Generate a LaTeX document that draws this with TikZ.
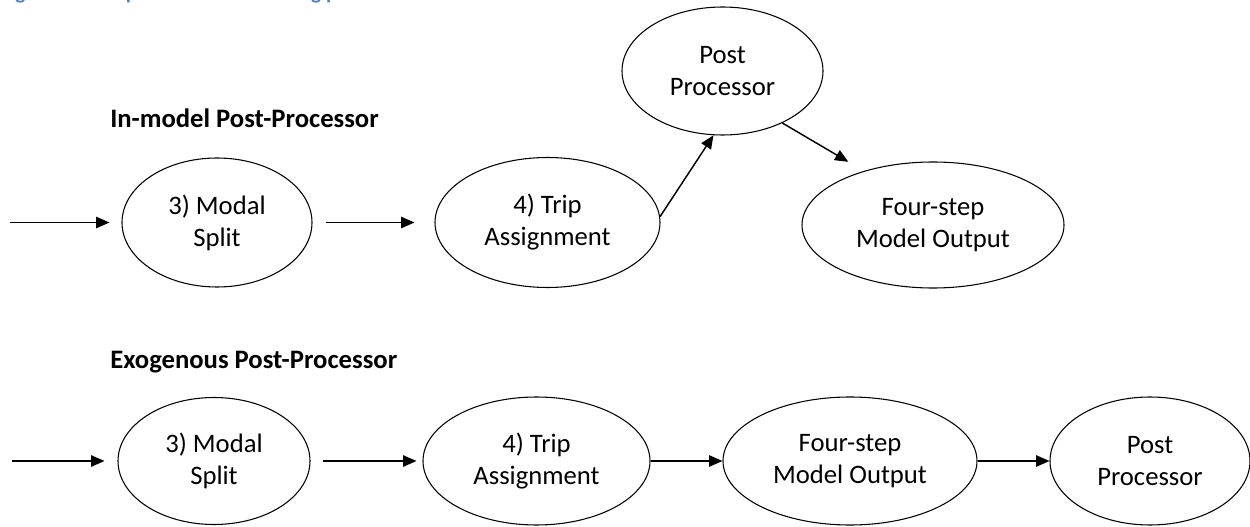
\documentclass[tikz,border=0pt]{standalone}
\usepackage{fontspec}
\setmainfont{Carlito}
\usetikzlibrary{shapes.geometric,arrows.meta}
\definecolor{capblue}{HTML}{4F81BD}
\begin{document}
\begin{tikzpicture}[x=0.75pt,y=-0.75pt,
  proc/.style={ellipse, draw, line width=0.8pt, inner sep=0pt, align=center,
    font=\fontsize{20}{24}\selectfont},
  flow/.style={-{Triangle[length=10pt,width=8.5pt]}, line width=1.1pt},
  heading/.style={anchor=west, inner sep=0pt, font=\fontsize{20}{24}\selectfont\bfseries}]
\useasboundingbox (0,0) rectangle (1250,527);
\begin{scope}
\clip (0,0) rectangle (1250,527);
\node[anchor=base west, inner sep=0pt, text=capblue, font=\fontsize{16}{20}\selectfont\bfseries] (cap) at (0,0) {Figure 5: Post processor in modeling process};
\end{scope}
% top row
\node[heading] (h1) at (110,118) {In-model Post-Processor};
\coordinate (in1) at (10,222.5);
\node[proc, minimum width=142.5pt, minimum height=96.75pt] (A1) at (217,222.5) {3) Modal\\Split};
\node[proc, minimum width=168.75pt, minimum height=97.5pt] (B1) at (547.5,222.5) {4) Trip\\Assignment};
\node[proc, minimum width=150.75pt, minimum height=96pt] (P1) at (722.5,71) {Post\\Processor};
\node[proc, minimum width=196.5pt, minimum height=94.5pt] (F1) at (933,225) {Four-step\\Model Output};
\draw[flow, shorten >=9pt] (in1) -- (A1);
\draw[flow, shorten <=9.75pt, shorten >=15pt] (A1) -- (B1);
\draw[flow] (B1.3) -- (P1.262);
\draw[flow, shorten >=13.5pt] (P1.319) -- (F1.142);
% bottom row
\node[heading] (h2) at (110,362) {Exogenous Post-Processor};
\coordinate (in2) at (12,461);
\node[proc, minimum width=144pt, minimum height=95.25pt] (A2) at (214,461) {3) Modal\\Split};
\node[proc, minimum width=170.25pt, minimum height=96pt] (B2) at (536.5,461) {4) Trip\\Assignment};
\node[proc, minimum width=190.5pt, minimum height=96pt] (C2) at (850,461) {Four-step\\Model Output};
\node[proc, minimum width=150pt, minimum height=96pt] (D2) at (1150,461) {Post\\Processor};
\draw[flow, shorten >=9.75pt] (in2) -- (A2);
\draw[flow, shorten <=9pt, shorten >=4.5pt] (A2) -- (B2);
\draw[flow] (B2) -- (C2);
\draw[flow] (C2) -- (D2);
\end{tikzpicture}
\end{document}
